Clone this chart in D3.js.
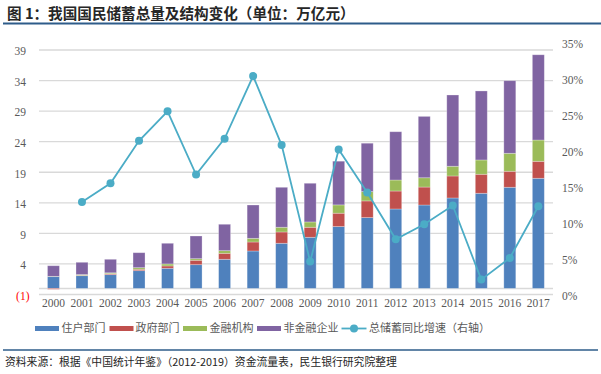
<!DOCTYPE html>
<html><head><meta charset="utf-8">
<script src="https://cdn.jsdelivr.net/npm/d3@7"></script>
<style>
html,body{margin:0;padding:0;background:#fff;}
svg{display:block;}
</style></head>
<body>
<svg id="c" width="601" height="374"></svg>
<script>
const years = ["2000","2001","2002","2003","2004","2005","2006","2007","2008","2009","2010","2011","2012","2013","2014","2015","2016","2017"];
const household  = [1.92,2.08,2.25,2.90,3.29,3.88,4.76,6.12,7.38,8.36,10.11,11.58,12.99,13.64,14.79,15.56,16.54,18.01];
const government = [-0.15,0.06,0.15,0.23,0.38,0.72,0.98,1.47,1.85,1.64,2.19,2.73,2.94,2.94,3.60,3.11,2.62,2.78];
const financial  = [0.05,0.12,0.15,0.26,0.33,0.26,0.43,0.60,0.77,0.87,1.36,1.52,1.80,1.52,1.59,2.34,2.94,3.48];
const nonfin     = [1.74,2.01,2.21,2.45,3.38,3.71,4.32,5.45,6.54,6.33,7.15,7.92,7.90,10.04,11.66,11.29,11.88,13.95];
const growth     = [null,12.9,15.5,21.4,25.5,16.7,21.7,30.4,20.8,4.6,20.2,14.2,7.7,9.8,12.4,2.1,5.1,12.3];
const leftTicks  = [-1,4,9,14,19,24,29,34,39];
const rightTicks = [0,5,10,15,20,25,30,35];
const seriesNames = ["住户部门","政府部门","金融机构","非金融企业"];
const lineName = "总储蓄同比增速（右轴）";
const colors = ["#4F81BD","#C0504D","#9BBB59","#8064A2"];
const lineColor = "#4BACC6";
const title = "图 1：我国国民储蓄总量及结构变化（单位：万亿元）";
const source = "资料来源：根据《中国统计年鉴》（2012-2019）资金流量表，民生银行研究院整理";

const svg = d3.select("#c");
const cjk = "'Noto Sans CJK SC','Noto Sans',sans-serif";
const num = "'Liberation Serif','DejaVu Serif',serif";
const txt = "#595959";

// title
svg.append("text").attr("x",7).attr("y",14).attr("dy","0.35em")
  .attr("font-family",cjk).attr("font-size",14.6).attr("font-weight",700).attr("fill","#262626")
  .text(title);
svg.append("line").attr("x1",3).attr("x2",601).attr("y1",23.5).attr("y2",23.5)
  .attr("stroke","#2E5C8A").attr("stroke-width",2);

const x = d3.scaleBand().domain(years).range([39.2,552.6]).paddingInner(0.58).paddingOuter(0.29);
const y = d3.scaleLinear().domain([-1,39]).range([294.5,50]);
const y2 = d3.scaleLinear().domain([0,35]).range([294.7,43]);

// gridlines
svg.append("g").selectAll("line").data(leftTicks).join("line")
  .attr("x1",39).attr("x2",553).attr("y1",d=>y(d)).attr("y2",d=>y(d))
  .attr("stroke","#D9D9D9").attr("stroke-width",1.3);
// zero axis line
svg.append("line").attr("x1",39).attr("x2",553).attr("y1",y(0)).attr("y2",y(0))
  .attr("stroke","#D9D9D9").attr("stroke-width",1.5);

// left axis labels
const la = d3.axisLeft(y).tickValues(leftTicks).tickSize(0).tickFormat(d=>d<0?"("+Math.abs(d)+")":d);
const gl = svg.append("g").attr("transform","translate(29.5,0)").call(la);
gl.select(".domain").remove();
gl.selectAll("text").attr("font-family",num).attr("font-size",11.5)
  .attr("fill",d=>d<0?"#FF0000":txt).attr("x",d=>d<0?0:-3.5).attr("dy","0.42em");

// right axis labels
const ra = d3.axisRight(y2).tickValues(rightTicks).tickSize(0).tickFormat(d=>d+"%");
const gr = svg.append("g").attr("transform","translate(562,0)").call(ra);
gr.select(".domain").remove();
gr.selectAll("text").attr("font-family",num).attr("font-size",11.5).attr("fill",txt).attr("x",0).attr("dy","0.42em");

// x labels
const xa = d3.axisBottom(x).tickSize(0);
const gx = svg.append("g").attr("transform","translate(0,296)").call(xa);
gx.select(".domain").remove();
gx.selectAll("text").attr("font-family",num).attr("font-size",11.5).attr("fill",txt).attr("dy","0.71em");

// stacked bars
const table = years.map((yr,i)=>({year:yr,s0:household[i],s1:government[i],s2:financial[i],s3:nonfin[i]}));
const stack = d3.stack().keys(["s0","s1","s2","s3"]).offset(d3.stackOffsetDiverging)(table);
svg.append("g").selectAll("g").data(stack).join("g").attr("fill",(d,i)=>colors[i])
  .selectAll("rect").data(d=>d).join("rect")
  .attr("x",d=>x(d.data.year)).attr("width",x.bandwidth())
  .attr("y",d=>y(Math.max(d[0],d[1]))).attr("height",d=>Math.abs(y(d[0])-y(d[1])))
  .attr("stroke","rgba(255,255,255,0.35)").attr("stroke-width",0.8);

// line
const pts = years.map((yr,i)=>({year:yr,v:growth[i]})).filter(d=>d.v!==null);
const line = d3.line().x(d=>x(d.year)+x.bandwidth()/2).y(d=>y2(d.v));
svg.append("path").datum(pts).attr("d",line).attr("fill","none").attr("stroke",lineColor).attr("stroke-width",1.8);
svg.append("g").selectAll("circle").data(pts).join("circle")
  .attr("cx",d=>x(d.year)+x.bandwidth()/2).attr("cy",d=>y2(d.v)).attr("r",4).attr("fill",lineColor);

// legend
const ly = 328.5;
const items = [
  {sx:35,tx:61.5,name:seriesNames[0],c:colors[0]},
  {sx:109.5,tx:135.5,name:seriesNames[1],c:colors[1]},
  {sx:183,tx:209.5,name:seriesNames[2],c:colors[2]},
  {sx:257,tx:283.5,name:seriesNames[3],c:colors[3]}
];
const lg = svg.append("g");
items.forEach(it=>{
  lg.append("rect").attr("x",it.sx).attr("y",ly-2.5).attr("width",24).attr("height",5).attr("fill",it.c);
  lg.append("text").attr("x",it.tx).attr("y",ly).attr("dy","0.35em").attr("font-family",cjk)
    .attr("font-size",11).attr("fill",txt).text(it.name);
});
lg.append("line").attr("x1",341.5).attr("x2",366.5).attr("y1",ly).attr("y2",ly).attr("stroke",lineColor).attr("stroke-width",1.8);
lg.append("circle").attr("cx",354).attr("cy",ly).attr("r",4).attr("fill",lineColor);
lg.append("text").attr("x",369).attr("y",ly).attr("dy","0.35em").attr("font-family",cjk)
  .attr("font-size",11).attr("fill",txt).text(lineName);

// bottom rule and source
svg.append("line").attr("x1",3).attr("x2",598).attr("y1",350).attr("y2",350).attr("stroke","#2E5C8A").attr("stroke-width",1.5);
svg.append("text").attr("x",5).attr("y",362).attr("dy","0.35em").attr("font-family",cjk)
  .attr("font-size",10.8).attr("fill","#262626").text(source);
</script>
</body></html>
